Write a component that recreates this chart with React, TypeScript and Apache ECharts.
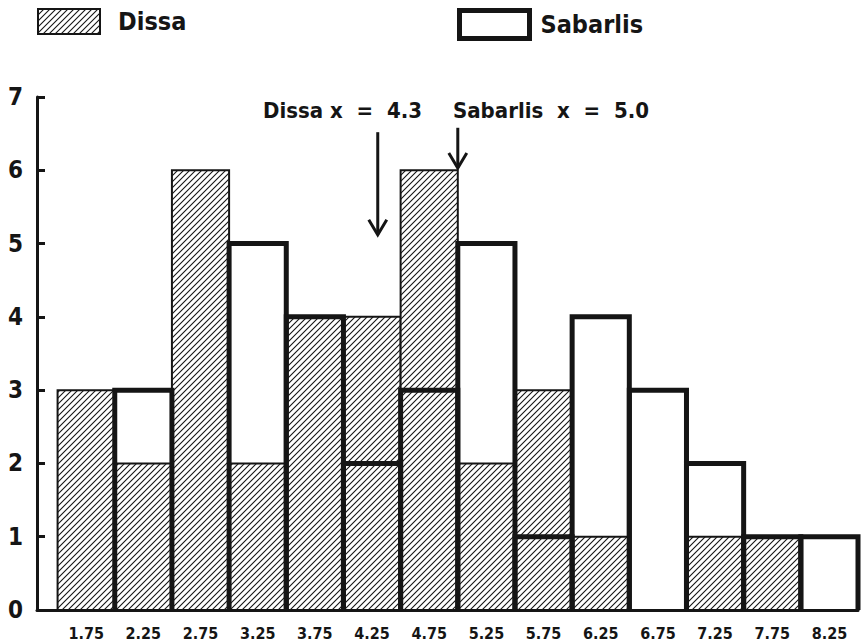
import React, { useEffect, useRef } from 'react';
import * as echarts from 'echarts';

// ---- data ----
const binCenters = [1.75, 2.25, 2.75, 3.25, 3.75, 4.25, 4.75, 5.25, 5.75, 6.25, 6.75, 7.25, 7.75, 8.25];
const dissaCounts = [3, 2, 6, 2, 4, 4, 6, 2, 3, 1, 0, 1, 1, 0];
const sabarlisCounts = [0, 3, 0, 5, 4, 2, 3, 5, 1, 4, 3, 2, 1, 1];
const binWidth = 0.5;
const seriesNames = ['Dissa', 'Sabarlis'];
const meanValues = [4.3, 5.0];
const meanLabels = ['Dissa x  =  4.3', 'Sabarlis  x  =  5.0'];
const xTickLabels = binCenters.map((v) => v.toFixed(2));

const INK = '#151515';
const FONT = "'DejaVu Sans Condensed', 'DejaVu Sans', sans-serif";

function makeHatch() {
  const s = 6;
  const c = document.createElement('canvas');
  c.width = s;
  c.height = s;
  const ctx = c.getContext('2d')!;
  ctx.fillStyle = '#fff';
  ctx.fillRect(0, 0, s, s);
  ctx.strokeStyle = INK;
  ctx.lineWidth = 1.1;
  ctx.beginPath();
  ctx.moveTo(0, s);
  ctx.lineTo(s, 0);
  ctx.moveTo(-1, 1);
  ctx.lineTo(1, -1);
  ctx.moveTo(s - 1, s + 1);
  ctx.lineTo(s + 1, s - 1);
  ctx.stroke();
  return { image: c.toDataURL(), repeat: 'repeat', imageWidth: s, imageHeight: s };
}

export default function App() {
  const ref = useRef<HTMLDivElement>(null);
  useEffect(() => {
    if (!ref.current) return;
    const chart = echarts.init(ref.current, undefined, { renderer: 'svg' });
    const hatch = makeHatch();
    // arrow vertical extents (value units): start above, tip below
    const arrowSpans = [
      [6.52, 5.12],
      [6.58, 6.03],
    ];
    const option: any = {
      animation: false,
      backgroundColor: '#fff',
      grid: { left: 37, right: 5, top: 97, bottom: 33 },
      legend: [
        {
          data: [{ name: seriesNames[0], itemStyle: { color: hatch, borderColor: INK, borderWidth: 2 } }],
          icon: 'rect',
          left: 37,
          top: 8,
          padding: 0,
          itemWidth: 62,
          itemHeight: 25,
          selectedMode: false,
          textStyle: { fontFamily: FONT, fontWeight: 'bold', fontSize: 25, color: INK, padding: [16, 0, 0, 13] },
        },
        {
          data: [{ name: seriesNames[1], itemStyle: { color: '#fff', borderColor: INK, borderWidth: 5 } }],
          icon: 'rect',
          left: 457,
          top: 8,
          padding: 0,
          itemWidth: 70,
          itemHeight: 28,
          selectedMode: false,
          textStyle: { fontFamily: FONT, fontWeight: 'bold', fontSize: 25, color: INK, padding: [14, 0, 0, 6] },
        },
      ],
      xAxis: {
        type: 'value',
        min: 1.32,
        max: 8.5,
        axisLine: { show: true, onZero: true, lineStyle: { color: INK, width: 3 } },
        axisTick: { show: false },
        splitLine: { show: false },
        axisLabel: {
          customValues: binCenters,
          formatter: (v: number) => xTickLabels[binCenters.indexOf(v)] ?? v.toFixed(2),
          fontFamily: FONT,
          fontWeight: 'bold',
          fontSize: 16,
          color: INK,
          margin: 15,
        },
      },
      yAxis: {
        type: 'value',
        min: 0,
        max: 7,
        interval: 1,
        axisLine: { show: true, lineStyle: { color: INK, width: 3 } },
        axisTick: { show: true, inside: true, length: 8, lineStyle: { color: INK, width: 3 } },
        splitLine: { show: false },
        axisLabel: { fontFamily: FONT, fontWeight: 'bold', fontSize: 24, color: INK, margin: 14 },
      },
      series: [
        {
          name: seriesNames[0],
          type: 'custom',
          itemStyle: { color: hatch, borderColor: INK, borderWidth: 2 },
          data: binCenters.map((c, i) => [c, dissaCounts[i]]),
          encode: { x: 0, y: 1 },
          renderItem: (params: any, api: any) => {
            const x = api.value(0);
            const y = api.value(1);
            if (!y) return { type: 'group', children: [] };
            const a = api.coord([x - binWidth / 2, 0]);
            const b = api.coord([x + binWidth / 2, y]);
            return {
              type: 'rect',
              shape: { x: a[0], y: b[1], width: b[0] - a[0], height: a[1] - b[1] },
              style: { fill: hatch, stroke: INK, lineWidth: 2 },
            };
          },
          z: 2,
        },
        {
          name: seriesNames[1],
          type: 'custom',
          itemStyle: { color: '#fff', borderColor: INK, borderWidth: 5 },
          data: binCenters.map((c, i) => [c, sabarlisCounts[i]]),
          encode: { x: 0, y: 1 },
          renderItem: (params: any, api: any) => {
            const x = api.value(0);
            const y = api.value(1);
            if (!y) return { type: 'group', children: [] };
            const a = api.coord([x - binWidth / 2, 0]);
            const b = api.coord([x + binWidth / 2, y]);
            return {
              type: 'polyline',
              shape: {
                points: [
                  [a[0], a[1]],
                  [a[0], b[1]],
                  [b[0], b[1]],
                  [b[0], a[1]],
                ],
              },
              style: { fill: 'none', stroke: INK, lineWidth: 5, lineJoin: 'miter' },
            };
          },
          z: 3,
        },
        {
          name: 'means',
          type: 'custom',
          data: meanValues.map((v, i) => [v, i]),
          encode: { x: 0 },
          renderItem: (params: any, api: any) => {
            const x = api.value(0);
            const i = api.value(1);
            const p0 = api.coord([x, arrowSpans[i][0]]);
            const p1 = api.coord([x, arrowSpans[i][1]]);
            return {
              type: 'group',
              children: [
                {
                  type: 'line',
                  shape: { x1: p0[0], y1: p0[1], x2: p1[0], y2: p1[1] },
                  style: { stroke: INK, lineWidth: 3 },
                },
                {
                  type: 'polyline',
                  shape: {
                    points: [
                      [p1[0] - 9, p1[1] - 15],
                      [p1[0], p1[1]],
                      [p1[0] + 9, p1[1] - 15],
                    ],
                  },
                  style: { fill: 'none', stroke: INK, lineWidth: 3 },
                },
              ],
            };
          },
          z: 4,
        },
      ],
      graphic: [
        {
          type: 'text',
          left: 263,
          top: 99,
          style: { text: meanLabels[0], fontFamily: FONT, fontWeight: 'bold', fontSize: 22, fill: INK },
        },
        {
          type: 'text',
          left: 453,
          top: 99,
          style: { text: meanLabels[1], fontFamily: FONT, fontWeight: 'bold', fontSize: 22, fill: INK },
        },
      ],
    };
    chart.setOption(option);
    return () => chart.dispose();
  }, []);
  return (
    <div
      ref={ref}
      style={{ position: 'absolute', left: 0, top: 0, width: 863, height: 643, background: '#fff' }}
    />
  );
}
